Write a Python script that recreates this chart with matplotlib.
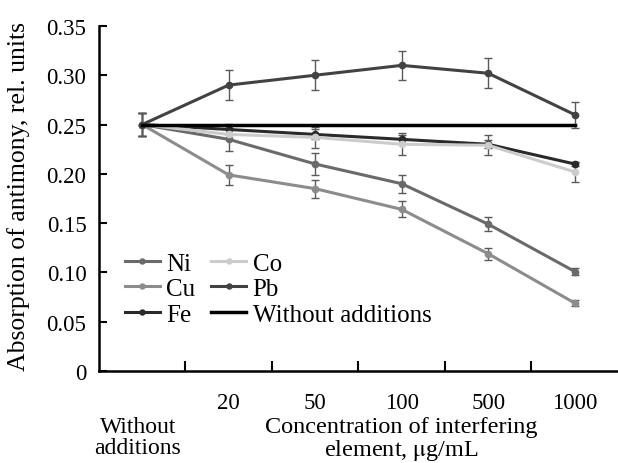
import numpy as np
import matplotlib
matplotlib.use('Agg')
import matplotlib.pyplot as plt
import matplotlib.transforms as mtransforms

plt.rcParams['font.family'] = 'Liberation Serif'
plt.rcParams['mathtext.fontset'] = 'stix'

# categories on the x axis
categories = ['Without\nadditions', '20', '50', '100', '500', '1000']

# absorption values
ni = [0.25, 0.235, 0.21, 0.19, 0.149, 0.101]
cu = [0.25, 0.199, 0.185, 0.164, 0.119, 0.069]
fe = [0.25, 0.245, 0.240, 0.235, 0.230, 0.210]
co = [0.25, 0.240, 0.237, 0.230, 0.229, 0.202]
pb = [0.25, 0.290, 0.300, 0.310, 0.302, 0.260]
without = [0.25, 0.25, 0.25, 0.25, 0.25, 0.25]

# error bar half widths
ni_err = [0.012, 0.012, 0.011, 0.009, 0.007, 0.004]
cu_err = [0.012, 0.010, 0.009, 0.008, 0.006, 0.003]
fe_err = [0.012, 0.006, 0.005, 0.004, 0.004, 0.002]
co_err = [0.012, 0.005, 0.011, 0.011, 0.010, 0.010]
pb_err = [0.012, 0.015, 0.015, 0.015, 0.015, 0.013]

x = np.arange(len(categories))

fig, ax = plt.subplots(figsize=(6.18, 4.64), dpi=100)
fig.subplots_adjust(left=0.16, right=1.0, top=0.942, bottom=0.198)

series = [
    ('Ni', ni, ni_err, '#6a6a6a'),
    ('Cu', cu, cu_err, '#8c8c8c'),
    ('Fe', fe, fe_err, '#2a2a2a'),
    ('Co', co, co_err, '#cccccc'),
    ('Pb', pb, pb_err, '#424242'),
]
handles = {}
for name, vals, err, color in series:
    ax.errorbar(x, vals, yerr=err, fmt='none', ecolor='#5a5a5a', elinewidth=1.0,
                capsize=3, capthick=1.0, zorder=2)
    h, = ax.plot(x, vals, '-o', color=color, lw=2.2, markersize=4.5, label=name, zorder=3)
    handles[name] = h
h, = ax.plot(x, without, '-', color='black', lw=2.5, label='Without additions', zorder=4)
handles['Without additions'] = h

ax.set_xlim(-0.5, 5.5)
ax.set_ylim(0, 0.35)
ax.set_yticks(np.arange(0, 0.351, 0.05))
ax.set_yticklabels(['0'] + ['%.2f' % v for v in np.arange(0.05, 0.351, 0.05)])
ax.tick_params(axis='y', direction='in', length=6, width=1.5, labelsize=16.5, pad=9)

# ticks between categories, labels at category centres
ax.set_xticks(x[:-1] + 0.5)
ax.set_xticklabels([])
ax.tick_params(axis='x', which='major', direction='in', length=7, width=1.5)
ax.set_xticks(x[1:], minor=True)
ax.set_xticklabels(categories[1:], minor=True)
ax.tick_params(axis='x', which='minor', length=0, labelsize=16.5, pad=15)

ax.spines['top'].set_visible(False)
ax.spines['right'].set_visible(False)
ax.spines['left'].set_linewidth(1.8)
ax.spines['bottom'].set_linewidth(1.8)

trans = mtransforms.blended_transform_factory(ax.transData, fig.transFigure)
ax.text(x[0] - 0.05, 1 - 417 / 464, categories[0], transform=trans, ha='center', va='top',
        fontsize=17, linespacing=1.0)
ax.text(3.0, 1 - 417 / 464, 'Concentration of interfering\nelement, $\\mathrm{\\mu}$g/mL',
        transform=trans, ha='center', va='top', fontsize=17.5, linespacing=1.0)
ax.set_ylabel('Absorption of antimony, rel. units', fontsize=18.5)
ax.yaxis.set_label_coords(-0.133, 0.51)

order = ['Ni', 'Cu', 'Fe', 'Co', 'Pb', 'Without additions']
ax.legend([handles[k] for k in order], order, ncol=2, loc='lower left',
          bbox_to_anchor=(0.05, 0.132), frameon=False, fontsize=18,
          handlelength=1.4, handletextpad=0.25, columnspacing=0.65, labelspacing=0.12,
          borderaxespad=0.0, borderpad=0.0, markerscale=0.8)

fig.savefig('out.png', dpi=100)
